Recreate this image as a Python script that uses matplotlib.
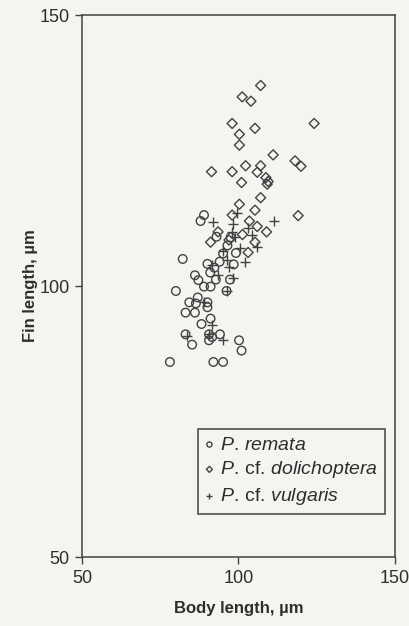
import matplotlib
matplotlib.use("Agg")
import matplotlib.pyplot as plt

plt.rcParams['font.family'] = ['Liberation Sans', 'DejaVu Sans']
plt.rcParams['mathtext.fontset'] = 'custom'
plt.rcParams['mathtext.it'] = 'Liberation Sans:italic'
plt.rcParams['mathtext.rm'] = 'Liberation Sans'

# P. remata (circles)
remata_x = [89.0, 87.9, 82.2, 86.1, 87.2, 80.0, 89.0, 91.1, 95.1, 93.0, 90.1, 92.3, 92.8, 97.3,
            96.2, 84.3, 87.0, 86.4, 90.1, 90.1, 83.1, 86.1, 91.1, 88.2, 83.1, 85.2, 90.6, 90.6,
            91.6, 94.1, 100.2, 101.0, 78.1, 92.0, 95.1, 99.2, 96.5, 98.5, 91.0, 94.0, 97.5]
remata_y = [113.1, 112.0, 105.0, 102.0, 101.1, 99.1, 99.9, 99.9, 106.0, 109.1, 104.1, 103.4, 101.2, 101.2,
            99.1, 97.0, 97.9, 96.8, 97.0, 96.1, 95.1, 95.1, 94.0, 93.0, 91.1, 89.2, 91.1, 90.0,
            90.6, 91.1, 90.0, 88.1, 86.0, 86.0, 86.0, 106.1, 107.5, 104.0, 102.5, 104.5, 109.0]

# P. cf. dolichoptera (diamonds)
doli_x = [107.1, 101.2, 104.0, 98.0, 105.3, 124.2, 100.3, 100.3, 111.1, 118.1, 120.0, 91.4, 98.0,
          102.3, 107.1, 106.0, 101.0, 108.8, 109.5, 109.2, 107.1, 100.3, 105.3, 98.0, 119.1, 109.0,
          103.1, 91.1, 105.3, 101.3, 93.5, 97.0, 103.5, 106.0]
doli_y = [137.0, 134.9, 134.1, 130.0, 129.1, 130.0, 128.0, 126.0, 124.2, 123.1, 122.1, 121.1, 121.1,
          122.2, 122.2, 121.0, 119.1, 120.0, 119.3, 118.8, 116.3, 115.1, 114.0, 113.1, 113.0, 110.0,
          106.2, 108.1, 108.1, 109.5, 110.0, 108.5, 112.0, 111.0]

# P. cf. vulgaris (plus)
vulg_x = [111.4, 92.0, 98.3, 97.8, 99.0, 103.1, 105.8, 96.2, 97.0, 91.4, 98.3, 96.2, 91.4, 95.1,
          83.5, 90.6, 89.0, 100.5, 102.0, 99.5, 93.5, 104.5, 95.0]
vulg_y = [112.0, 111.9, 111.5, 110.0, 109.0, 110.8, 107.3, 104.8, 103.5, 103.9, 101.4, 99.1, 92.8, 90.0,
          90.7, 91.1, 97.0, 107.0, 104.5, 113.5, 102.0, 109.5, 106.5]

labels = [r'$\it{P.}\!$ $\it{remata}$', r'$\it{P.}\!$ cf. $\it{dolichoptera}$', r'$\it{P.}\!$ cf. $\it{vulgaris}$']
ticks = [50, 100, 150]

ink = '#424242'
txt = '#2e2e2e'
bg = '#f4f4f1'

fig = plt.figure(figsize=(4.10, 6.26), dpi=100, facecolor=bg)
ax = fig.add_axes([0.200, 0.110, 0.763, 0.866], facecolor=bg)

ax.scatter(remata_x, remata_y, s=38, marker='o', facecolors='none', edgecolors=ink, linewidths=1.0, label=labels[0])
ax.scatter(doli_x, doli_y, s=26, marker='D', facecolors='none', edgecolors=ink, linewidths=1.0, label=labels[1])
ax.scatter(vulg_x, vulg_y, s=50, marker='+', color=ink, linewidths=1.0, label=labels[2])

ax.set_xlim(50, 150)
ax.set_ylim(50, 150)
ax.set_xticks(ticks)
ax.set_yticks(ticks)
ax.set_xticklabels([str(t) for t in ticks])
ax.set_yticklabels([str(t) for t in ticks])
ax.tick_params(direction='out', length=5, width=1.0, color=ink, labelcolor=txt, labelsize=13, pad=4)
for sp in ax.spines.values():
    sp.set_color(ink)
    sp.set_linewidth(1.1)

ax.set_xlabel('Body length, µm', fontsize=12, fontweight='bold', color=txt, labelpad=10)
ax.set_ylabel('Fin length, µm', fontsize=12, fontweight='bold', color=txt, labelpad=1)

leg = ax.legend(loc='upper left', bbox_to_anchor=(0.37, 0.236), fontsize=14, frameon=True,
                fancybox=False, edgecolor=ink, facecolor=bg, framealpha=1.0,
                handlelength=0.5, handletextpad=0.3, borderpad=0.35, labelspacing=0.3,
                markerscale=0.6, borderaxespad=0)
leg.get_frame().set_linewidth(1.1)
for t in leg.get_texts():
    t.set_color(txt)

fig.savefig('out.png', dpi=100, facecolor=bg)
